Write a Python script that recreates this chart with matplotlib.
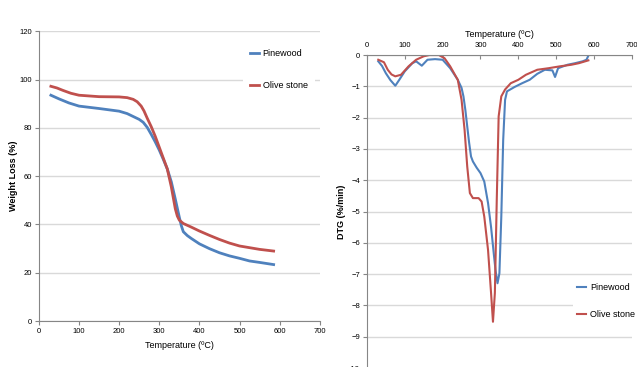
import numpy as np
import matplotlib
matplotlib.use('Agg')
import matplotlib.pyplot as plt

plt.rcParams['font.family'] = ['Liberation Sans Narrow', 'Liberation Sans', 'DejaVu Sans']

# TGA curves (weight loss %)
tga_temp_pine = [30, 50, 75, 100, 150, 200, 220, 240, 250, 260, 270, 280, 290, 300, 310, 320, 330, 340, 350,
                 355, 360, 370, 380, 400, 425, 450, 475, 500, 525, 550, 585]
tga_pine = [93.5, 92, 90.3, 89, 88, 86.9, 85.9, 84.3, 83.5, 82.3, 80.2, 77.3, 74.2, 70.8, 67, 63, 57.7, 50.5, 43,
            39.5, 37, 35.4, 34.2, 32, 30, 28.3, 27, 26, 24.9, 24.3, 23.4]
tga_temp_olive = [30, 45, 60, 80, 100, 150, 200, 220, 235, 245, 255, 262, 270, 280, 290, 300, 310, 320, 330, 340,
                  345, 350, 360, 380, 400, 425, 450, 475, 500, 550, 585]
tga_olive = [97.2, 96.5, 95.5, 94.3, 93.5, 92.9, 92.8, 92.5, 91.8, 90.8, 89, 87, 84, 80.5, 76.5, 72, 67.5, 63, 55.6,
             46.5, 43.5, 41.8, 40.4, 38.9, 37.3, 35.5, 33.8, 32.3, 31.1, 29.7, 29]

# DTG curves (%/min)
dtg_temp_pine = [30, 40, 50, 62, 75, 85, 100, 120, 130, 145, 160, 180, 200, 220, 240, 250, 255, 260, 265, 270, 275,
                 280, 290, 300, 310, 320, 328, 335, 340, 345, 350, 355, 360, 365, 370, 390, 410, 430, 450, 470, 490,
                 497, 505, 530, 550, 570, 580, 585]
dtg_pine = [-0.2, -0.35, -0.58, -0.8, -0.98, -0.8, -0.52, -0.26, -0.2, -0.34, -0.15, -0.13, -0.15, -0.42, -0.79,
            -1.05, -1.32, -1.75, -2.28, -2.8, -3.24, -3.4, -3.6, -3.77, -4.04, -4.73, -5.5, -6.33, -6.9, -7.29, -6.97,
            -5.16, -2.71, -1.43, -1.16, -1.02, -0.9, -0.79, -0.6, -0.47, -0.49, -0.7, -0.42, -0.31, -0.26, -0.2,
            -0.15, -0.02]
dtg_temp_olive = [30, 45, 55, 65, 75, 90, 110, 130, 150, 165, 190, 205, 220, 240, 250, 258, 265, 272, 280, 295,
                  303, 310, 320, 328, 333, 338, 343, 348, 355, 365, 380, 400, 420, 450, 480, 510, 540, 560, 585]
dtg_olive = [-0.15, -0.23, -0.47, -0.62, -0.68, -0.63, -0.36, -0.15, -0.04, 0.0, 0.0, -0.1, -0.36, -0.79, -1.43,
             -2.39, -3.56, -4.41, -4.57, -4.57, -4.68, -5.16, -6.23, -7.61, -8.52, -7.6, -4.63, -1.96, -1.32, -1.1,
             -0.9, -0.79, -0.63, -0.47, -0.42, -0.36, -0.31, -0.26, -0.17]

blue = '#4f81bd'
red = '#c0504d'
grid_c = '#d9d9d9'
spine_c = '#868686'

fig = plt.figure(figsize=(6.37, 3.67), dpi=100)

# left panel: TGA
ax1 = fig.add_axes([0.061, 0.125, 0.441, 0.790])
ax1.plot(tga_temp_pine, tga_pine, color=blue, lw=2, label='Pinewood')
ax1.plot(tga_temp_olive, tga_olive, color=red, lw=2, label='Olive stone')
ax1.set_xlim(0, 700)
ax1.set_ylim(0, 120)
ax1.set_xticks(range(0, 701, 100))
ax1.set_yticks(range(0, 121, 20))
ax1.yaxis.grid(True, color=grid_c, lw=1)
ax1.set_axisbelow(True)
for s in ['top', 'right']:
    ax1.spines[s].set_visible(False)
for s in ['left', 'bottom']:
    ax1.spines[s].set_color(spine_c)
ax1.tick_params(labelsize=5.5, length=3, color=spine_c, pad=2)
ax1.set_xlabel('Temperature (ºC)', fontsize=6.5, labelpad=4)
ax1.set_ylabel('Weight Loss (%)', fontsize=6.5, fontweight='bold', labelpad=1)
ax1.legend(loc='upper left', bbox_to_anchor=(0.71, 0.98), fontsize=6.5, frameon=True,
           facecolor='white', edgecolor='none', framealpha=1, handlelength=1.0,
           labelspacing=2.6, borderpad=0.8, handletextpad=0.4)

# right panel: DTG
ax2 = fig.add_axes([0.576, -0.003, 0.416, 0.853])
ax2.plot(dtg_temp_pine, dtg_pine, color=blue, lw=1.5, label='Pinewood')
ax2.plot(dtg_temp_olive, dtg_olive, color=red, lw=1.5, label='Olive stone')
ax2.set_xlim(0, 700)
ax2.set_ylim(-10, 0)
ax2.set_xticks(range(0, 701, 100))
ax2.set_yticks(range(-10, 1, 1))
ax2.yaxis.grid(True, color=grid_c, lw=1)
ax2.set_axisbelow(True)
ax2.xaxis.tick_top()
ax2.xaxis.set_label_position('top')
for s in ['bottom', 'right']:
    ax2.spines[s].set_visible(False)
for s in ['left', 'top']:
    ax2.spines[s].set_color(spine_c)
ax2.tick_params(axis='x', direction='in', labelsize=5.5, length=3, color=spine_c, pad=4)
ax2.tick_params(axis='y', labelsize=5.5, length=3, color=spine_c, pad=2)
ax2.set_xlabel('Temperature (ºC)', fontsize=6.5, labelpad=4)
ax2.set_ylabel('DTG (%/min)', fontsize=6.5, fontweight='bold', labelpad=1)
ax2.legend(loc='upper left', bbox_to_anchor=(0.76, 0.30), fontsize=6.5, frameon=True,
           facecolor='white', edgecolor='none', framealpha=1, handlelength=1.0,
           labelspacing=2.0, borderpad=0.5, handletextpad=0.4)

fig.savefig('out.png', dpi=100)
